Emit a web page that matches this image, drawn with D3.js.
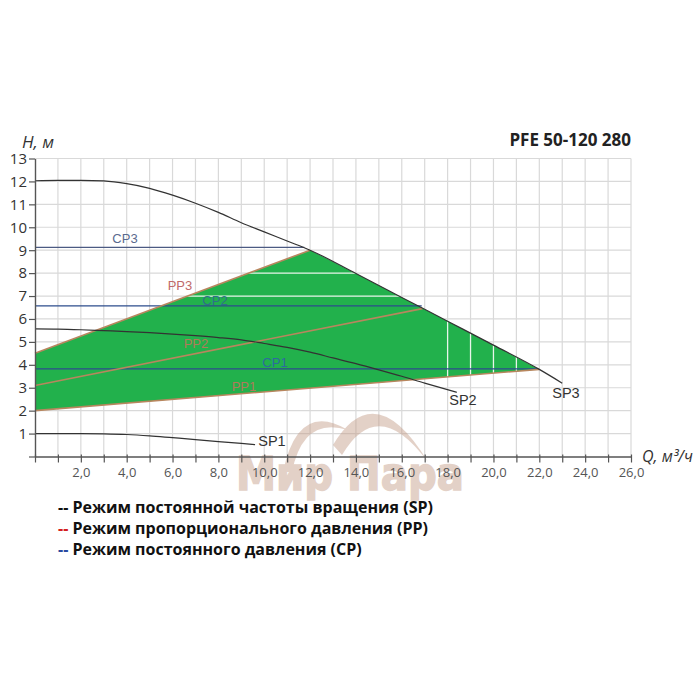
<!DOCTYPE html>
<html><head><meta charset="utf-8">
<script src="https://cdn.jsdelivr.net/npm/d3@7"></script>
<style>body{margin:0;background:#fff}svg{display:block}</style>
</head><body>
<svg id="c" width="700" height="700"></svg>
<script>
// ---- data ----
const xTicks = d3.range(0, 27, 1);
const yTicks = d3.range(0, 14, 1);
const sp3Q = [0,1,2,3,4,5,6,7,8,9,10,11,12,14,16,18,20,22,23];
const sp3H = [12.03,12.05,12.05,12.02,11.9,11.7,11.4,11.05,10.65,10.2,9.8,9.4,9.0,7.98,6.94,5.9,4.86,3.8,3.2];
const sp2Q = [0,1,2,3,4,5,6,7,8,9,10,11,12,13,14,15,16,17,18.4];
const sp2H = [5.57,5.56,5.53,5.49,5.45,5.4,5.34,5.27,5.19,5.09,4.93,4.76,4.55,4.3,4.05,3.78,3.5,3.2,2.8];
const sp1Q = [0,2,3,4,5,6,7,8,9,9.6];
const sp1H = [1.0,1.0,0.99,0.96,0.9,0.82,0.74,0.65,0.57,0.52];
const ppQ0 = [0,0,0], ppH0 = [2.0,3.1,4.5];      // PP1, PP2, PP3 start
const ppQ1 = [22,16.9,12], ppH1 = [3.8,6.45,9.0]; // PP1, PP2, PP3 end
const cpH = [3.82,6.57,9.12];                      // CP1, CP2, CP3
const cpQend = [21.95,16.87,11.75];
const whiteQ = [18,19,20,21];
const whiteH = [7,8];
const legendItems = ["Режим постоянной частоты вращения (SP)","Режим пропорционального давления (PP)","Режим постоянного давления (CP)"];
const legendDash = ["#111","#d42020","#2a4aa0"];

const svg = d3.select("#c");
const x = d3.scaleLinear([0,26],[35,631]);
const y = d3.scaleLinear([0,13],[456.5,158.5]);
const zip = (a,b)=>a.map((v,i)=>[v,b[i]]);
const curve = d3.line().x(d=>x(d[0])).y(d=>y(d[1])).curve(d3.curveMonotoneX);

// grid
const g = svg.append("g");
g.selectAll(".vx").data(xTicks.slice(1)).join("line")
 .attr("x1",d=>x(d)).attr("x2",d=>x(d)).attr("y1",y(0)).attr("y2",y(13))
 .attr("stroke","#d9d9d9").attr("stroke-width",1.2);
g.selectAll(".hy").data(yTicks.slice(1)).join("line")
 .attr("x1",x(0)).attr("x2",x(26)).attr("y1",d=>y(d)).attr("y2",d=>y(d))
 .attr("stroke","#d9d9d9").attr("stroke-width",1.2);

// watermark
const wm = svg.append("g").attr("opacity",0.45);
wm.append("path").attr("d","M283,472 Q298,400 348,430 Q303,416 292,472 Z").attr("fill","#c39a85");
wm.append("path").attr("d","M333,445 Q375,375 428,462 Q378,394 342,455 Z").attr("fill","#c39a85");
wm.append("text").attr("x",236).attr("y",490).attr("font-family","DejaVu Sans, sans-serif").attr("font-weight","bold")
 .attr("font-size",46).attr("fill","#c39a85").attr("stroke","#c39a85").attr("stroke-width",1.5)
 .attr("textLength",228).attr("lengthAdjust","spacingAndGlyphs").text("Мир Пара");

// green region
const topEdge = zip(sp3Q,sp3H).filter(d=>d[0]>12 && d[0]<22);
const poly = [[ppQ0[0],ppH0[0]],[ppQ0[2],ppH0[2]],[ppQ1[2],ppH1[2]],...topEdge,[ppQ1[0],ppH1[0]]];
const polyStr = poly.map(d=>x(d[0])+","+y(d[1])).join(" ");
svg.append("clipPath").attr("id","gc").append("polygon").attr("points",polyStr);
svg.append("polygon").attr("points",polyStr).attr("fill","#22b14c");
const wg = svg.append("g").attr("clip-path","url(#gc)");
wg.selectAll(".wv").data(whiteQ).join("line").attr("x1",d=>x(d)).attr("x2",d=>x(d)).attr("y1",y(0)).attr("y2",y(13))
 .attr("stroke","#e8f5ea").attr("stroke-width",1.3);
wg.selectAll(".wh").data(whiteH).join("line").attr("x1",x(0)).attr("x2",x(26)).attr("y1",d=>y(d)).attr("y2",d=>y(d))
 .attr("stroke","#e8f5ea").attr("stroke-width",1.3);

// labels under lines
const lab = (t,px,py,col,fs)=>svg.append("text").attr("x",px).attr("y",py).attr("font-family","Liberation Sans, Arial")
 .attr("font-size",fs||13).attr("fill",col).attr("text-anchor","middle").attr("dominant-baseline","central").text(t);
lab("CP3",125,238,"#5a6a8e");
lab("CP2",215,300,"#2f6f8a");
lab("CP1",275,362,"#2d6aa0");
lab("PP3",180,285,"#c06a6a");
lab("PP2",196,343,"#b07a5a");
lab("PP1",244,386,"#b07a5a");

// CP lines
svg.selectAll(".cp").data(cpH).join("line").attr("x1",x(0)).attr("x2",(d,i)=>x(cpQend[i]))
 .attr("y1",d=>y(d)).attr("y2",d=>y(d)).attr("stroke",(d,i)=>i==2?"#4b5a82":"#2d4d8c").attr("stroke-width",1.2);
// PP lines
svg.selectAll(".pp").data(ppQ0).join("line").attr("x1",d=>x(d)).attr("y1",(d,i)=>y(ppH0[i]))
 .attr("x2",(d,i)=>x(ppQ1[i])).attr("y2",(d,i)=>y(ppH1[i])).attr("stroke","#b8865e").attr("stroke-width",1.6);
// SP curves
[[sp3Q,sp3H],[sp2Q,sp2H],[sp1Q,sp1H]].forEach(([q,h])=>{
  svg.append("path").attr("d",curve(zip(q,h))).attr("fill","none").attr("stroke","#333").attr("stroke-width",1.2);
});
lab("SP3",566,393,"#333",14.5);
lab("SP2",463,400,"#333",14.5);
lab("SP1",272,441,"#333",14.5);

// axes
const ax = svg.append("g").attr("transform",`translate(0,${y(0)})`)
 .call(d3.axisBottom(x).tickValues(xTicks).tickSize(6).tickSizeOuter(0)
 .tickFormat(d=>(d>0&&d%2===0)?d.toFixed(1).replace(".",","):""));
ax.select(".domain").attr("stroke","#555").attr("stroke-width",1.4);
ax.selectAll(".tick line").attr("stroke","#555").attr("y1",-2).attr("stroke-width",1.2);
ax.selectAll("text").attr("font-family","Open Sans, sans-serif").attr("font-size",13).attr("fill","#555").attr("dy","0.9em");
const ay = svg.append("g").attr("transform",`translate(${x(0)},0)`)
 .call(d3.axisLeft(y).tickValues(yTicks).tickSize(6).tickSizeOuter(0).tickFormat(d=>d>0?d:""));
ay.select(".domain").attr("stroke","#555").attr("stroke-width",1.4);
ay.selectAll(".tick line").attr("stroke","#555").attr("stroke-width",1.2);
ay.selectAll("text").attr("font-family","Open Sans, sans-serif").attr("font-size",15).attr("fill","#333").attr("x",-8);

svg.append("text").attr("x",22).attr("y",148).attr("font-family","Open Sans, sans-serif").attr("font-style","italic")
 .attr("font-size",17).attr("fill","#333").text("H, м");
svg.append("text").attr("x",642).attr("y",462).attr("font-family","Open Sans, sans-serif").attr("font-style","italic")
 .attr("font-size",16).attr("fill","#333").text("Q, м³/ч");
svg.append("text").attr("x",631).attr("y",146).attr("text-anchor","end").attr("font-family","Open Sans, sans-serif")
 .attr("font-weight","bold").attr("font-size",17).attr("fill","#222").text("PFE 50-120 280");

// legend
const lg = svg.append("g");
legendItems.forEach((t,i)=>{
  const tx = lg.append("text").attr("x",58).attr("y",513+i*21).attr("font-family","Open Sans, sans-serif")
   .attr("font-weight","bold").attr("font-size",16).attr("fill","#111");
  tx.append("tspan").attr("fill",legendDash[i]).text("-- ");
  tx.append("tspan").text(t);
});
</script>
</body></html>
